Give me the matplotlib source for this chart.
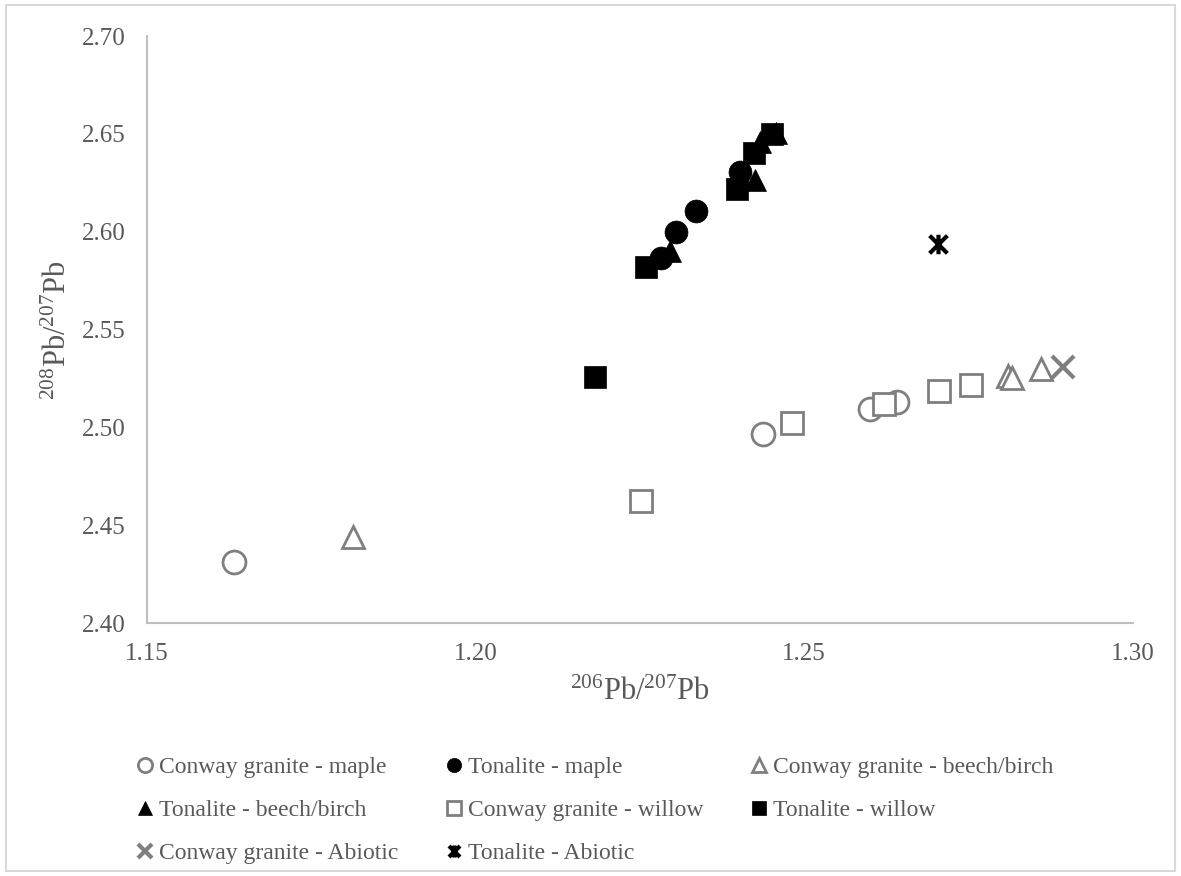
import numpy as np
import matplotlib
matplotlib.use("Agg")
import matplotlib.pyplot as plt
from matplotlib.path import Path
from matplotlib.patches import Rectangle
from matplotlib import rcParams

# 206Pb/207Pb (x) and 208Pb/207Pb (y) per series
conway_maple_x = [1.1633, 1.2438, 1.2600, 1.2641]
conway_maple_y = [2.4315, 2.4965, 2.5095, 2.5132]
tonalite_maple_x = [1.2283, 1.2305, 1.2336, 1.2402]
tonalite_maple_y = [2.5864, 2.5997, 2.6108, 2.6307]
conway_beech_x = [1.1814, 1.2811, 1.2816, 1.2861]
conway_beech_y = [2.4442, 2.5262, 2.5255, 2.5297]
tonalite_beech_x = [1.2296, 1.2425, 1.2433, 1.2457]
tonalite_beech_y = [2.5902, 2.6264, 2.6460, 2.6503]
conway_willow_x = [1.2252, 1.2481, 1.2622, 1.2706, 1.2754]
conway_willow_y = [2.4623, 2.5025, 2.5119, 2.5187, 2.5217]
tonalite_willow_x = [1.2182, 1.2259, 1.2398, 1.2424, 1.2452]
tonalite_willow_y = [2.5260, 2.5818, 2.6220, 2.6401, 2.6498]
conway_abiotic_x = [1.2894]
conway_abiotic_y = [2.5311]
tonalite_abiotic_x = [1.2704]
tonalite_abiotic_y = [2.5937]

x_ticks = [1.15, 1.20, 1.25, 1.30]
y_ticks = [2.40, 2.45, 2.50, 2.55, 2.60, 2.65, 2.70]

GRAY = "#7f7f7f"
TEXT = "#595959"
AXIS = "#bfbfbf"

rcParams["font.family"] = ["Liberation Serif", "DejaVu Serif"]
rcParams["mathtext.fontset"] = "custom"
rcParams["mathtext.rm"] = "Liberation Serif"
rcParams["mathtext.it"] = "Liberation Serif:italic"

# Excel-like "star" marker: an X with a vertical bar
star = Path([(-1, -1), (1, 1), (-1, 1), (1, -1), (0, -1.1), (0, 1.1)],
            [Path.MOVETO, Path.LINETO, Path.MOVETO, Path.LINETO, Path.MOVETO, Path.LINETO])

fig = plt.figure(figsize=(11.81, 8.76), dpi=100)
ax = fig.add_axes([0.1242, 0.2885, 0.8349, 0.6704])

ms = 16.5
series = [
    ("Conway granite - maple", conway_maple_x, conway_maple_y,
     dict(marker="o", mfc="white", mec=GRAY, mew=2.0)),
    ("Tonalite - maple", tonalite_maple_x, tonalite_maple_y,
     dict(marker="o", mfc="black", mec="black", mew=0.5)),
    ("Conway granite - beech/birch", conway_beech_x, conway_beech_y,
     dict(marker="^", mfc="white", mec=GRAY, mew=2.0)),
    ("Tonalite - beech/birch", tonalite_beech_x, tonalite_beech_y,
     dict(marker="^", mfc="black", mec="black", mew=0.5)),
    ("Conway granite - willow", conway_willow_x, conway_willow_y,
     dict(marker="s", mfc="white", mec=GRAY, mew=2.0)),
    ("Tonalite - willow", tonalite_willow_x, tonalite_willow_y,
     dict(marker="s", mfc="black", mec="black", mew=0.5)),
    ("Conway granite - Abiotic", conway_abiotic_x, conway_abiotic_y,
     dict(marker="x", mfc="none", mec=GRAY, mew=3.0)),
    ("Tonalite - Abiotic", tonalite_abiotic_x, tonalite_abiotic_y,
     dict(marker=star, mfc="none", mec="black", mew=3.0)),
]

handles = []
for label, xs, ys, style in series:
    size = ms
    if style["marker"] == "x":
        size = ms * 0.95
    if style["marker"] is star:
        size = ms * 0.85
    h, = ax.plot(xs, ys, linestyle="none", markersize=size, label=label,
                 clip_on=False, **style)
    handles.append(h)

ax.set_xlim(1.15, 1.30)
ax.set_ylim(2.40, 2.70)
ax.set_xticks(x_ticks)
ax.set_yticks(y_ticks)
ax.set_xticklabels([f"{v:.2f}" for v in x_ticks])
ax.set_yticklabels([f"{v:.2f}" for v in y_ticks])
ax.tick_params(length=0, labelsize=18, colors=TEXT)
ax.tick_params(axis="y", pad=15)
ax.tick_params(axis="x", pad=14)

for side in ("top", "right"):
    ax.spines[side].set_visible(False)
for side in ("left", "bottom"):
    ax.spines[side].set_color(AXIS)
    ax.spines[side].set_linewidth(1.5)

ax.set_xlabel(r"$^{206}$Pb/$^{207}$Pb", fontsize=22, color=TEXT, va="center")
ax.set_ylabel(r"$^{208}$Pb/$^{207}$Pb", fontsize=22, color=TEXT, va="center")
ax.xaxis.set_label_coords(0.5, -0.117)
ax.yaxis.set_label_coords(-0.09, 0.5)

# legend fills column-wise, so reorder to read row-wise like the original
order = [0, 3, 6, 1, 4, 7, 2, 5]
leg = fig.legend([handles[i] for i in order], [series[i][0] for i in order],
                 ncol=3, loc="upper left", bbox_to_anchor=(0.108, 0.1467),
                 frameon=False, fontsize=17, markerscale=0.62,
                 handlelength=0.7, handletextpad=0.25, columnspacing=2.0,
                 labelspacing=0.9, borderaxespad=0)
for t in leg.get_texts():
    t.set_color(TEXT)

# chart area border
fig.patches.append(Rectangle((0.005, 0.006), 0.99, 0.988, transform=fig.transFigure,
                             fill=False, edgecolor="#d9d9d9", linewidth=1.5))

fig.savefig("out.png", dpi=100)
